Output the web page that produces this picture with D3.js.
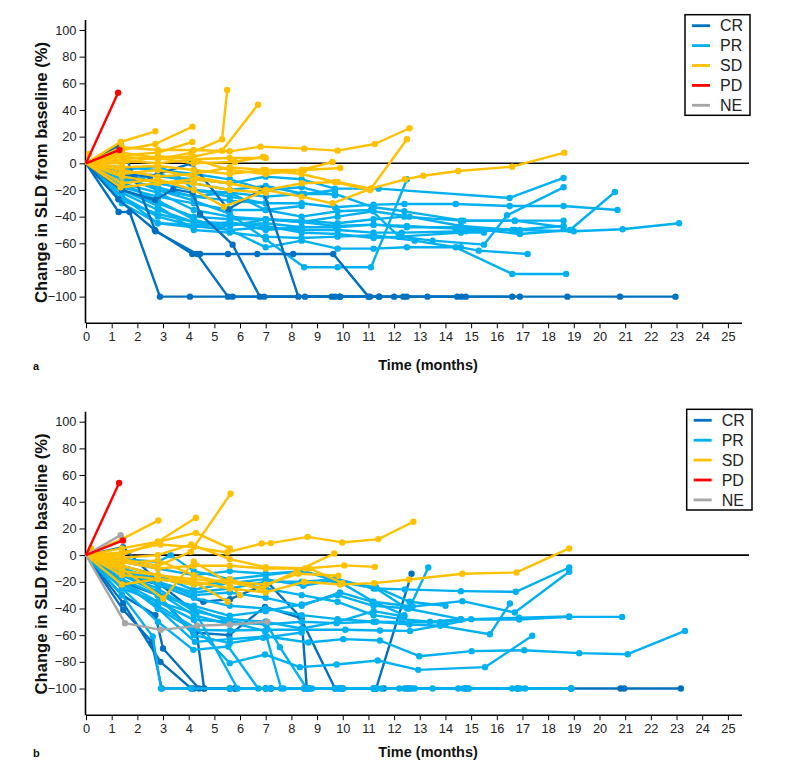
<!DOCTYPE html>
<html><head><meta charset="utf-8">
<script src="https://cdn.jsdelivr.net/npm/d3@7"></script>
<style>body{margin:0;background:#fff}svg{display:block}</style>
</head><body>
<svg id="c" width="785" height="778"></svg>
<script>
const monthTicks = d3.range(0, 26);
const yTicks = [100, 80, 60, 40, 20, 0, -20, -40, -60, -80, -100];
const categories = ["CR", "PR", "SD", "PD", "NE"];
const catColors = ["#0070C0", "#00B0F0", "#FFC000", "#FF0000", "#A6A6A6"];

// ---- Panel a trajectories: [months, % change] ----
const aCR = [
 [[0,0],[1.27,-36.5],[1.7,-36.5],[2.88,-100],[4.05,-100],[5.71,-100],[6.94,-100],[8.53,-100],[9.89,-100],[11.42,-100],[12.49,-100],[13.3,-100],[14.79,-100],[16.6,-100],[18.75,-100],[20.8,-100],[22.96,-100]],
 [[0,0],[1.35,14],[1.87,-10],[2.71,-51],[4.33,-68],[5.53,-100],[9.7,-100],[12.36,-100],[14.63,-100],[16.9,-100]],
 [[0,0],[1.26,-27],[2.68,-50],[4.14,-68],[4.44,-68],[5.53,-68],[6.67,-68],[8.07,-68],[9.63,-68],[11.0,-100],[12.0,-100],[14.46,-100]],
 [[0,0],[1.4,-20],[2.69,-27.5],[3.4,-19.5],[4.15,-22],[4.44,-38],[5.71,-61],[6.77,-100],[9.57,-100],[11.06,-100]],
 [[0,0],[1.4,-8],[2.5,-10],[4.1,0],[5.54,-34.5],[6.88,-19.5],[8.27,-100],[9.89,-100],[11.42,-100]]
];
const aPR = [
 [[0,0],[1.4,-5],[2.8,-10],[4.2,-12],[5.6,-15],[7.0,-10],[8.4,-12],[9.7,-19],[11.4,-19],[16.5,-26],[18.6,-11]],
 [[0,0],[1.4,-12],[2.8,-18],[4.2,-25],[5.6,-28],[7.0,-30],[8.4,-30],[9.7,-33],[11.2,-31],[12.4,-30.5],[14.4,-30.5],[16.5,-32],[18.6,-32],[20.7,-35]],
 [[0,0],[1.4,-20],[2.8,-30],[4.2,-40],[5.6,-42],[7.0,-42],[8.4,-43],[9.8,-45],[11.2,-42],[12.4,-40],[14.6,-43],[16.7,-43],[18.6,-43]],
 [[0,0],[1.4,-22],[2.8,-35],[4.2,-44],[5.6,-46],[7.0,-45],[8.4,-48],[9.8,-48],[11.2,-46],[12.5,-47],[14.4,-49],[16.9,-50],[19.0,-51],[20.9,-49.5],[23.1,-45]],
 [[0,0],[1.4,-25],[2.8,-40],[4.2,-47],[5.6,-50],[7.0,-48],[8.4,-50],[9.8,-50],[11.2,-52],[12.3,-52],[14.8,-51],[16.6,-50],[18.6,-47]],
 [[0,0],[1.4,-18],[2.8,-25],[4.2,-30],[5.6,-35],[7.0,-35],[8.4,-40],[9.8,-36],[11.1,-35],[12.2,-55],[13.5,-58],[15.5,-61],[16.4,-39],[18.6,-18]],
 [[0,0],[1.4,-10],[2.8,-20],[4.2,-28],[5.6,-38],[7.0,-57],[8.5,-78],[9.8,-78],[11.1,-78],[12.5,-12]],
 [[0,0],[1.4,-15],[2.8,-28],[4.2,-42],[5.6,-50],[7.0,-63],[8.4,-58],[9.8,-64],[11.2,-64],[12.5,-63],[14.6,-63],[15.3,-65.5],[17.2,-68]],
 [[0,0],[1.4,-20],[2.8,-32],[4.2,-50],[5.6,-52],[7.0,-55],[8.4,-56],[9.8,-55],[11.2,-54],[12.8,-58],[14.4,-63],[16.6,-83],[18.7,-83]],
 [[0,0],[1.4,-8],[2.8,-15],[4.2,-20],[5.6,-22],[7.0,-25],[8.4,-23],[9.7,-23],[11.2,-33],[12.4,-36],[14.7,-43],[16.7,-43],[18.6,-48]],
 [[0,0],[1.4,-30],[2.8,-45],[4.2,-46],[5.6,-47],[7.0,-42],[8.4,-44],[9.7,-47],[11.2,-46],[12.5,-48],[14.5,-48],[16.9,-53],[18.85,-50],[20.6,-21.5]],
 [[0,0],[1.4,-10],[2.8,-20],[4.2,-25],[5.6,-22],[7.0,-35],[8.4,-32]],
 [[0,0],[1.4,-15],[2.8,-8],[4.2,-15],[5.6,-20],[7.0,-17],[8.5,-23],[9.7,-20]],
 [[0,0],[1.4,-25],[2.8,-45],[4.2,-48],[5.6,-44],[7.0,-50],[8.4,-48]],
 [[0,0],[1.4,-5],[2.8,-2],[3.5,-8],[4.2,-20],[5.6,-25],[7.0,-30]],
 [[0,0],[1.4,-28],[2.8,-38],[4.2,-44],[5.6,-45],[7.0,-47],[8.4,-52],[9.8,-53],[11.2,-56],[12.2,-55],[14.6,-52],[15.5,-52]],
 [[0,0],[1.4,-3],[2.8,-5],[4.2,-8],[5.6,-12],[7.0,-20],[8.4,-18],[9.7,-24]],
 [[0,0],[1.4,-15],[2.8,-22],[4.2,-35],[5.6,-40],[7.0,-42],[8.4,-44],[9.8,-40],[11.2,-36],[12.6,-40],[14.6,-47],[16.7,-50]]
];
const aSD = [
 [[0,0],[0.12,7]],
 [[0,0],[1.35,16],[2.7,24]],
 [[0,0],[1.4,10],[2.7,14.5],[4.15,27.5]],
 [[0,0],[1.4,6],[2.8,8],[4.14,16]],
 [[0,0],[1.4,5],[2.8,3],[4.1,8],[5.3,18],[5.5,55]],
 [[0,0],[1.4,3],[2.8,5],[4.2,5],[5.3,9.5],[6.7,44]],
 [[0,0],[1.4,12],[2.8,10],[4.2,10],[5.6,9],[6.8,12.5],[8.5,11],[9.8,9.5],[11.25,14.5],[12.6,26.3]],
 [[0,0],[1.4,-5],[2.8,-10],[4.2,-8],[5.6,-3],[6.9,-5],[8.4,-8],[9.7,-14],[11.06,-20],[12.5,18]],
 [[0,0],[1.35,-18],[2.8,-15],[4.2,-12],[5.6,-15],[7.0,-20],[8.4,-15],[9.8,-14],[11.1,-19],[12.42,-12],[13.14,-9.3],[14.5,-5.8],[16.6,-2.5],[18.63,8]],
 [[0,0],[1.4,2],[2.8,0],[4.2,3],[5.6,4],[7.0,4]],
 [[0,0],[1.4,-15],[2.8,-12],[4.2,-20],[5.37,-32.5],[6.97,-21]],
 [[0,0],[1.4,-8],[2.8,-5],[4.2,-10],[5.6,-15],[7.0,-20],[8.4,-25],[9.6,-30],[11.1,-19]],
 [[0,0],[1.4,0],[2.8,5],[4.2,3],[5.6,-5],[7.0,-8],[8.4,-5],[9.6,1]],
 [[0,0],[1.4,-3],[2.8,-2],[4.2,-5],[5.6,-8],[7.0,-5],[8.5,-5],[9.9,-3.5]],
 [[0,0],[1.4,-10],[2.8,-14],[4.2,-15],[5.6,-20],[7.0,-22]],
 [[0,0],[1.4,8],[2.8,4],[4.2,0],[5.8,1],[6.9,5]]
];
const aPD = [
 [[0,0],[1.25,53]],
 [[0,0],[1.3,10]]
];
const aNE = [];

// ---- Panel b trajectories ----
const bCR = [
 [[0,0],[1.45,-41],[2.56,-65],[2.95,-100],[4.2,-100],[5.6,-100],[7.0,-100],[8.5,-100],[10.0,-100],[11.6,-100],[12.6,-100],[14.8,-100],[16.8,-100],[18.9,-100],[20.82,-100],[20.96,-100],[23.17,-100]],
 [[0,0],[1.45,-36],[2.9,-80],[4.1,-100],[4.6,-100],[5.6,-100],[7.2,-100]],
 [[0,0],[1.4,-30],[2.7,-45],[3.0,-70],[4.4,-100],[5.8,-100],[7.2,-100],[8.7,-100],[9.9,-100],[11.3,-100],[12.68,-14]],
 [[0,0],[1.4,-20],[2.8,-30],[4.18,-58],[5.58,-60],[6.97,-38.8],[8.4,-47.5],[8.6,-100],[9.9,-100],[11.3,-100]],
 [[0,0],[1.4,-15],[2.8,-22],[4.57,-35],[5.61,-33],[7.1,-21],[8.33,-46],[9.7,-100],[11.2,-100],[12.5,-100]],
 [[0,0],[1.44,6],[2.9,-22],[4.2,-42],[4.6,-100],[5.8,-100],[7.0,-100]]
];
const bPR = [
 [[0,0],[1.4,-10],[2.8,-20],[4.2,-28],[5.6,-25],[7.0,-20],[8.4,-20],[9.8,-18],[11.2,-25],[12.42,-25.7],[14.6,-27],[16.74,-27.5],[18.82,-9.3]],
 [[0,0],[1.4,-12],[2.8,-22],[4.2,-32],[5.6,-38],[7.0,-40],[8.4,-45],[9.8,-48],[11.3,-50],[12.6,-52],[13.8,-53],[15.73,-59.3],[16.51,-36.3]],
 [[0,0],[1.4,-12],[2.8,-20],[4.2,-30],[5.6,-28],[7.0,-32],[8.4,-38],[9.89,-28],[11.16,-35],[12.72,-38.5],[14.66,-34.5],[16.7,-43],[18.82,-12.5]],
 [[0,0],[1.4,-25],[2.8,-35],[4.2,-48.5],[5.6,-50],[7.0,-52],[8.4,-50],[9.76,-51],[11.2,-50],[12.62,-50.3],[13.78,-50.3],[14.6,-48.3],[16.87,-48.3],[18.82,-46.3],[20.88,-46.3]],
 [[0,0],[1.4,-20],[2.8,-40],[4.18,-56],[5.61,-56.5],[7.04,-56],[8.4,-56],[10.1,-56],[11.45,-56.5],[12.62,-56.8],[14.0,-52],[15.0,-48],[16.87,-47],[18.82,-46]],
 [[0,0],[1.4,-20],[2.8,-40],[4.24,-65],[5.61,-63],[7.04,-61],[8.66,-65.5],[10.02,-63],[11.45,-64],[12.98,-75.8],[15.02,-72],[17.07,-71.3],[19.21,-73.5],[21.1,-74.3],[23.33,-56.8]],
 [[0,0],[1.4,-22],[2.8,-38],[4.3,-55],[5.6,-81],[6.97,-74.5],[8.33,-84],[9.76,-82],[11.36,-79],[12.94,-86],[15.54,-84],[17.38,-60.5]],
 [[0,0],[1.4,-25],[2.8,-50],[4.18,-71],[5.54,-68.5],[6.71,-100],[7.7,-100],[8.7,-100],[10,-100],[11.2,-100],[12.4,-100],[13.5,-100],[14.9,-100],[16.8,-100],[17.1,-100],[18.9,-100]],
 [[0,0],[1.4,-8],[2.8,-15],[4.18,-26],[5.58,-21],[7.0,-18],[8.46,-23],[9.63,-19],[11.3,-25],[12.5,-40],[14.6,-48]],
 [[0,0],[1.4,-30],[2.6,-61],[2.92,-100],[4.1,-100],[5.6,-100],[7.0,-100],[8.5,-100],[9.8,-100],[11.3,-100],[12.5,-100],[14.7,-100],[16.6,-100],[18.9,-100]],
 [[0,0],[1.4,-20],[2.8,-35],[4.3,-44],[5.9,-100],[7.2,-100],[8.6,-100],[9.9,-100],[11.5,-100],[12.7,-100],[14.9,-100]],
 [[0,0],[1.4,-12],[2.8,-28],[4.2,-40],[5.6,-50],[6.97,-57],[7.6,-100],[8.8,-100],[10.0,-100],[12.2,-100],[14.5,-100],[16.9,-100]],
 [[0,0],[1.4,-15],[2.8,-25],[4.2,-42],[5.6,-48],[7.0,-50],[7.55,-69],[8.6,-100],[9.7,-100],[11.2,-100],[12.8,-100]],
 [[0,0],[1.4,-5],[2.8,-10],[4.2,-15],[5.6,-12],[7.0,-14],[8.5,-12],[9.8,-20],[11.3,-24],[12.6,-35],[14.0,-38]],
 [[0,0],[1.4,-10],[2.8,-18],[4.2,-22],[5.6,-20],[7.0,-25],[8.4,-30],[9.8,-35],[11.2,-45],[12.3,-48],[13.4,-50],[14.6,-48]],
 [[0,0],[1.4,-18],[2.8,-30],[4.2,-38],[5.6,-45.5],[7.0,-42],[8.4,-37],[9.8,-30],[11.2,-38],[12.59,-40],[13.33,-9.3]],
 [[0,0],[1.4,-3],[2.8,-5],[3.3,0],[4.2,-12],[5.6,-18],[7.0,-15],[8.4,-12],[9.7,-18],[11.2,-35],[12.4,-45]],
 [[0,0],[1.4,-15],[2.8,-28],[4.2,-45],[5.6,-52],[7.0,-50],[8.4,-55],[9.8,-50],[11.2,-42],[12.4,-46]],
 [[0,0],[1.4,-10],[2.8,-30],[4.2,-60],[5.6,-66],[6.9,-62],[8.4,-58]]
];
const bSD = [
 [[0,0],[0.2,5]],
 [[0,0],[1.4,12],[2.82,26]],
 [[0,0],[1.4,5],[2.8,10],[4.28,28]],
 [[0,0],[1.4,-3],[2.8,-8],[4.08,2.5],[5.63,46]],
 [[0,0],[1.4,0],[2.8,10],[4.28,16.7],[5.6,5]],
 [[0,0],[1.4,2],[2.9,8],[4.2,6],[5.5,2],[6.84,8.7],[7.2,9],[8.63,13.7],[9.98,9.5],[11.39,12],[12.75,25]],
 [[0,0],[1.4,-22],[2.8,-18],[4.2,-20],[5.6,-25],[7.0,-28],[8.5,-20],[9.9,-22],[11.23,-21],[12.59,-18.3],[14.66,-14],[16.77,-13],[18.82,5]],
 [[0,0],[1.4,-5],[2.8,-10],[4.2,-8],[5.6,-8],[7.0,-10],[8.53,-10],[10.06,-7.7],[11.25,-8.8]],
 [[0,0],[1.4,-10],[3.01,-32.5],[4.2,-5],[5.5,-20],[6.8,-25],[8.2,-12],[9.67,1.2]],
 [[0,0],[1.4,-8],[2.8,-15],[4.2,-20],[5.52,-35]],
 [[0,0],[1.4,-12],[2.8,-15],[4.2,-18],[5.6,-20],[7.0,-22],[8.27,-14],[9.83,-15.5]],
 [[0,0],[1.4,-15],[2.8,-18],[4.2,-22],[5.6,-18],[6.9,-26]],
 [[0,0],[1.4,-2],[2.8,0],[4.1,8],[5.6,-3],[7.0,-9],[8.7,-10],[10.0,-21]],
 [[0,0],[1.4,-6],[2.8,-4],[4.2,-15],[5.6,-22],[6.0,-30]]
];
const bPD = [
 [[0,0],[1.29,54]],
 [[0,0],[1.44,11]]
];
const bNE = [
 [[0,0],[1.35,15]],
 [[0,0],[1.52,-51],[2.91,-56],[4.33,-53],[5.6,-52],[7.06,-50]]
];

const svg = d3.select("#c");
const font = "Liberation Sans, Arial, Helvetica, sans-serif";

function drawPanel(p) {
  const x = d3.scaleLinear().domain([0, 25.55]).range([86, 742]);
  const y = d3.scaleLinear().domain([-120, 107.5]).range([p.bottom, p.top]);
  const g = svg.append("g");

  const yAxis = d3.axisLeft(y).tickValues(yTicks).tickSize(6).tickPadding(3).tickFormat(d3.format("d"));
  const gy = g.append("g").attr("transform", "translate(85.5,0)").call(yAxis);
  const xAxis = d3.axisBottom(x).tickValues(monthTicks).tickSize(5).tickPadding(4).tickFormat(d3.format("d"));
  const gx = g.append("g").attr("transform", `translate(0,${p.bottom})`).call(xAxis);
  [gx, gy].forEach(a => {
    a.select(".domain").attr("stroke", "#000").attr("stroke-width", 1.6);
    a.selectAll(".tick line").attr("stroke", "#000").attr("stroke-width", 1);
    a.selectAll(".tick text").attr("fill", "#222").style("font-family", font).style("font-size", "12.8px");
  });
  gy.select(".domain").attr("d", `M0,${p.top}V${p.bottom}`);
  gx.select(".domain").attr("d", `M86,0H742`);

  g.append("line").attr("x1", x(0)).attr("x2", 749).attr("y1", y(0)).attr("y2", y(0))
    .attr("stroke", "#000").attr("stroke-width", 1.6);

  const line = d3.line().x(d => x(d[0])).y(d => y(d[1]));
  p.order.forEach(([data, ci]) => {
    const col = catColors[ci];
    data.forEach(tr => {
      g.append("path").datum(tr).attr("d", line).attr("fill", "none")
        .attr("stroke", col).attr("stroke-width", 2.4).attr("stroke-linejoin", "round");
      g.selectAll(null).data(tr.slice(1)).enter().append("circle")
        .attr("cx", d => x(d[0])).attr("cy", d => y(d[1])).attr("r", 3.2).attr("fill", col);
    });
  });

  const L = p.legend;
  g.append("rect").attr("x", L.x).attr("y", L.y).attr("width", L.w).attr("height", L.h)
    .attr("fill", "#fff").attr("stroke", "#000").attr("stroke-width", 1.5);
  categories.forEach((c, i) => {
    const yy = L.y + 11 + i * 19.9;
    g.append("line").attr("x1", L.x + 7).attr("x2", L.x + 25).attr("y1", yy).attr("y2", yy)
      .attr("stroke", catColors[i]).attr("stroke-width", 2.8);
    g.append("text").attr("x", L.x + 35).attr("y", yy + 5.7).text(c)
      .attr("fill", "#222").style("font-family", font).style("font-size", "16px");
  });

  g.append("text").attr("transform", `translate(46.5,${p.ymid}) rotate(-90)`).attr("text-anchor", "middle")
    .text("Change in SLD from baseline (%)").style("font-family", font).style("font-size", "16.6px")
    .style("font-weight", "bold").attr("fill", "#111");
  g.append("text").attr("x", 428).attr("y", p.xlabY).attr("text-anchor", "middle").text("Time (months)")
    .style("font-family", font).style("font-size", "14.5px").style("font-weight", "bold").attr("fill", "#111");
  g.append("text").attr("x", 33).attr("y", p.xlabY).text(p.letter)
    .style("font-family", font).style("font-size", "11px").style("font-weight", "bold").attr("fill", "#111");
}

drawPanel({top: 20, bottom: 323.3, ymid: 172.5, xlabY: 370, letter: "a",
  legend: {x: 685, y: 14.7, w: 65, h: 100.6},
  order: [[aPR, 1], [aCR, 0], [aSD, 2], [aNE, 4], [aPD, 3]]});
drawPanel({top: 411.7, bottom: 715.2, ymid: 564, xlabY: 757, letter: "b",
  legend: {x: 686.7, y: 409.3, w: 65.3, h: 100.7},
  order: [[bCR, 0], [bPR, 1], [bSD, 2], [bNE, 4], [bPD, 3]]});
</script>
</body></html>
